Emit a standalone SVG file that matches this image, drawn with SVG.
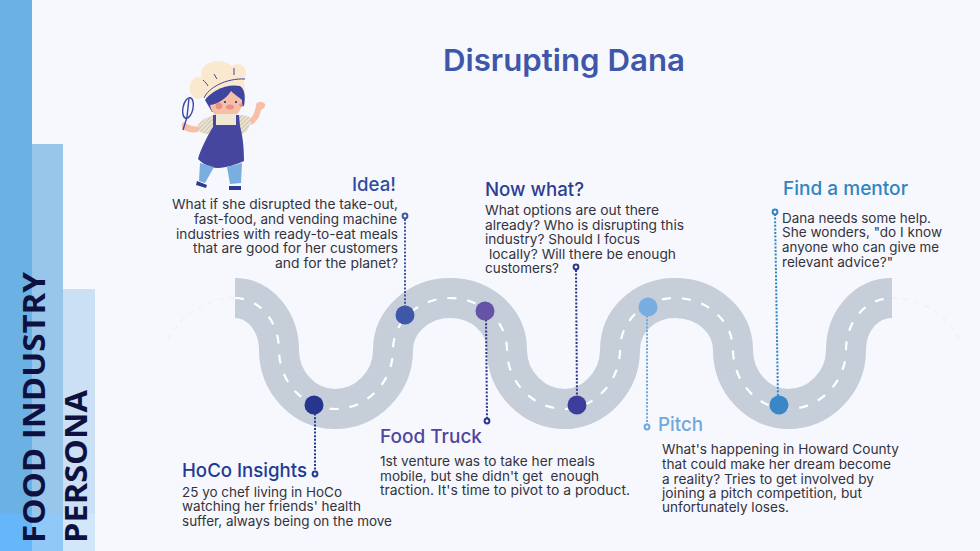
<svg xmlns="http://www.w3.org/2000/svg" width="980" height="551" viewBox="0 0 980 551">
<defs>
<pattern id="stripes" width="3" height="3" patternUnits="userSpaceOnUse" patternTransform="rotate(45)"><rect width="3" height="3" fill="#f1e8d4"/><rect width="1.4" height="3" fill="#cfc7b5"/></pattern>
</defs>
<style>
text{font-family:"Inter","Liberation Sans",sans-serif}
.b{font-size:13.5px;fill:#33333d;font-weight:400}
.h{font-size:19px;font-weight:500}
.side{font-size:31px;font-weight:700;fill:#0e1140;font-family:"Open Sans","Liberation Sans",sans-serif}
.road{fill:none;stroke:#c5ced9;stroke-width:40}
.dash{fill:none;stroke:#fff;stroke-width:2.2;stroke-dasharray:9 11}
.faint{fill:none;stroke:#f0f1f6;stroke-width:1.5;stroke-dasharray:6 5}
.dot{fill:none;stroke-width:2;stroke-dasharray:2 1.6}
.ring{fill:#f7f8fd;stroke-width:2}
</style>
<rect width="980" height="551" fill="#f7f8fd"/>
<g id="sidebar">
<rect x="0" y="0" width="32" height="551" fill="#6cb1e4"/>
<rect x="32" y="144" width="31" height="407" fill="#98c5ea"/>
<rect x="63" y="289" width="32" height="262" fill="#cbe0f5"/>
<rect x="0" y="514" width="32" height="37" fill="#66b7fa"/>
<rect x="32" y="514" width="31" height="37" fill="#90c8f8"/>
<rect x="63" y="514" width="32" height="37" fill="#d3e7fb"/>
<text class="side" transform="translate(45 543) rotate(-90)" textLength="271" lengthAdjust="spacingAndGlyphs">FOOD INDUSTRY</text>
<text class="side" transform="translate(87 543) rotate(-90)" textLength="153" lengthAdjust="spacingAndGlyphs">PERSONA</text>
</g>
<text id="title" x="443" y="71" font-size="30" font-weight="600" fill="#3f57a8" textLength="242" lengthAdjust="spacingAndGlyphs">Disrupting Dana</text>
<g id="chef">
<ellipse cx="198" cy="88" rx="8.500" ry="11" fill="#fae9cf"/>
<ellipse cx="218" cy="74" rx="17" ry="13" fill="#fae9cf"/>
<ellipse cx="237" cy="73" rx="9" ry="9" fill="#fae9cf"/>
<path d="M203 84L216 72L244 78L245 96L206 100Z" fill="#fae9cf"/>
<path d="M203 80C205 82 207 84 208 86M214 74L217 79M234 68L234 75M204 98C208 88 226 78 245 79" fill="none" stroke="#3f459f" stroke-width="1"/>
<path d="M205 100C210 92 226 83 240 86C246 90 245 100 244 106L212 112Z" fill="#3f459f"/>
<path d="M210 105C218 104 227 98 231 91C235 95 240 98 242 100C243 110 236 118 226 119C217 119 211 112 210 105Z" fill="#f6bfa8"/>
<circle cx="219" cy="106" r="3.300" fill="#ee8f84"/><ellipse cx="230" cy="107" rx="4" ry="2.500" fill="#ee8f84"/><circle cx="241" cy="105" r="1.800" fill="#ee8f84"/>
<circle cx="225" cy="102" r="1.100" fill="#2b2f7a"/><circle cx="236" cy="102" r="1.100" fill="#2b2f7a"/>
<path d="M198 125C203 118 210 116 216 115L240 115C244 115 248 116 252 118L248 130L243 134L205 134L198 131Z" fill="url(#stripes)"/>
<path d="M216 114H236V125H216Z" fill="#f1e8d4"/>
<path d="M182 124C183 121 186 123 187 124C191 126 195 127 199 126L198 132C193 133 187 132 184 130C182 129 181 126 182 124Z" fill="#f6bfa8"/>
<path d="M250 120C253 116 255 111 256 106C255 102 262 100 265 104C266 107 263 109 261 110C260 116 257 122 251 125Z" fill="#f6bfa8"/>
<path d="M198 159C201 148 208 135 213 127L213 115L216 115L216 125L236 125L236 115L239 115L240 126C242 134 244 143 244 161C235 165 221 170 211 167C205 165 201 162 198 159Z" fill="#45479f"/>
<path d="M200 163L214 167L205 183L199 181Z M227 167L242 163L241 183L230 184Z" fill="#79aee0"/>
<path d="M197 181L207 185L206 188L196 185Z M229 186L241 186L241 190L229 190Z" fill="#2e3a8f"/>
<g fill="none" stroke="#3c47a8" stroke-width="1.400"><ellipse cx="188" cy="108" rx="5" ry="10.500" transform="rotate(12 188 108)"/><path d="M189 98L187 117M187 117L183 130"/></g>
</g>
<g id="connectors">
<path d="M235 298C259 298 279 321 279 350C279 382 304 409 335 409C367 409 393 382 393 350C393 321 419 298 450 298C482 298 507 321 507 350C507 382 533 409 565 409C594 409 620 382 620 350C620 321 644 298 675 298C707 298 733 321 733 350C733 382 758 409 788 409C820 409 846 382 846 350C846 321 866 298 892 298" class="road"/>
<path d="M235 298C259 298 279 321 279 350C279 382 304 409 335 409C367 409 393 382 393 350C393 321 419 298 450 298C482 298 507 321 507 350C507 382 533 409 565 409C594 409 620 382 620 350C620 321 644 298 675 298C707 298 733 321 733 350C733 382 758 409 788 409C820 409 846 382 846 350C846 321 866 298 892 298" class="dash"/>
<path d="M168 340C180 315 208 298 235 298M892 298C920 298 948 315 960 340" class="faint"/>
<path d="M315 410V472" class="dot" stroke="#233a95"/>
<path d="M405 219V310" class="dot" stroke="#3f56a6"/>
<path d="M486 316L487 419" class="dot" stroke="#2c3590"/>
<path d="M576 270L577 400" class="dot" stroke="#2c3590"/>
<path d="M647 312V425" class="dot" stroke="#6ea8dc"/>
<path d="M775 214L778 400" class="dot" stroke="#2d86c2"/>
</g>
<g id="node-hoco">
<circle cx="314" cy="405" r="9.500" fill="#27358f"/>
<circle cx="315" cy="474" r="2.400" class="ring" stroke="#233a95"/>
<text class="h" x="182" y="477" fill="#233a95" textLength="125" lengthAdjust="spacingAndGlyphs">HoCo Insights</text>
<text class="b" x="182" y="497" textLength="160" lengthAdjust="spacingAndGlyphs">25 yo chef living in HoCo</text>
<text class="b" x="182" y="511" textLength="179" lengthAdjust="spacingAndGlyphs">watching her friends' health</text>
<text class="b" x="182" y="526" textLength="210" lengthAdjust="spacingAndGlyphs">suffer, always being on the move</text>
</g>
<g id="node-idea">
<circle cx="405" cy="315" r="9.500" fill="#3f57a8"/>
<circle cx="405" cy="216" r="2.400" class="ring" stroke="#3f56a6"/>
<text class="h" x="352" y="191" fill="#2d4ea0" textLength="44" lengthAdjust="spacingAndGlyphs">Idea!</text>
<text class="b" x="172" y="209" textLength="226" lengthAdjust="spacingAndGlyphs">What if she disrupted the take-out,</text>
<text class="b" x="194" y="224" textLength="203" lengthAdjust="spacingAndGlyphs">fast-food, and vending machine</text>
<text class="b" x="176" y="238.500" textLength="222" lengthAdjust="spacingAndGlyphs">industries with ready-to-eat meals</text>
<text class="b" x="193" y="253" textLength="205" lengthAdjust="spacingAndGlyphs">that are good for her customers</text>
<text class="b" x="275" y="268" textLength="123" lengthAdjust="spacingAndGlyphs">and for the planet?</text>
</g>
<g id="node-truck">
<circle cx="485" cy="311" r="9.500" fill="#6553a6"/>
<circle cx="487" cy="421" r="2.400" class="ring" stroke="#2c3590"/>
<text class="h" x="380" y="443" fill="#5145a0" textLength="102" lengthAdjust="spacingAndGlyphs">Food Truck</text>
<text class="b" x="380" y="466" textLength="215" lengthAdjust="spacingAndGlyphs">1st venture was to take her meals</text>
<text class="b" x="380" y="481" textLength="219" lengthAdjust="spacingAndGlyphs" xml:space="preserve">mobile, but she didn't get  enough</text>
<text class="b" x="380" y="495" textLength="250" lengthAdjust="spacingAndGlyphs">traction. It's time to pivot to a product.</text>
</g>
<g id="node-nowwhat">
<circle cx="577" cy="405" r="9.500" fill="#3f3d9b"/>
<circle cx="576" cy="267" r="2.400" class="ring" stroke="#2c3590"/>
<text class="h" x="485" y="196" fill="#2d3f92" textLength="99" lengthAdjust="spacingAndGlyphs">Now what?</text>
<text class="b" x="485" y="215" textLength="174" lengthAdjust="spacingAndGlyphs">What options are out there</text>
<text class="b" x="485" y="230" textLength="199" lengthAdjust="spacingAndGlyphs">already? Who is disrupting this</text>
<text class="b" x="485" y="244" textLength="155" lengthAdjust="spacingAndGlyphs">industry? Should I focus</text>
<text class="b" x="489" y="259" textLength="187" lengthAdjust="spacingAndGlyphs">locally? Will there be enough</text>
<text class="b" x="485" y="273" textLength="74" lengthAdjust="spacingAndGlyphs">customers?</text>
</g>
<g id="node-pitch">
<circle cx="648" cy="307" r="9.500" fill="#77ade0"/>
<circle cx="647" cy="427" r="2.400" class="ring" stroke="#6ea8dc"/>
<text class="h" x="658" y="431" fill="#6ea8dc" textLength="45" lengthAdjust="spacingAndGlyphs">Pitch</text>
<text class="b" x="662" y="454" textLength="237" lengthAdjust="spacingAndGlyphs">What's happening in Howard County</text>
<text class="b" x="662" y="469" textLength="229" lengthAdjust="spacingAndGlyphs">that could make her dream become</text>
<text class="b" x="662" y="484" textLength="212" lengthAdjust="spacingAndGlyphs">a reality? Tries to get involved by</text>
<text class="b" x="662" y="498" textLength="200" lengthAdjust="spacingAndGlyphs">joining a pitch competition, but</text>
<text class="b" x="662" y="512" textLength="127" lengthAdjust="spacingAndGlyphs">unfortunately loses.</text>
</g>
<g id="node-mentor">
<circle cx="779" cy="405" r="9.500" fill="#3a87c6"/>
<circle cx="775" cy="212" r="2.400" class="ring" stroke="#2d86c2"/>
<text class="h" x="783" y="195" fill="#3085bf" textLength="125" lengthAdjust="spacingAndGlyphs">Find a mentor</text>
<text class="b" x="782" y="223" textLength="149" lengthAdjust="spacingAndGlyphs">Dana needs some help.</text>
<text class="b" x="782" y="237" textLength="160" lengthAdjust="spacingAndGlyphs">She wonders, "do I know</text>
<text class="b" x="782" y="252" textLength="157" lengthAdjust="spacingAndGlyphs">anyone who can give me</text>
<text class="b" x="782" y="267" textLength="111" lengthAdjust="spacingAndGlyphs">relevant advice?"</text>
</g>
</svg>
